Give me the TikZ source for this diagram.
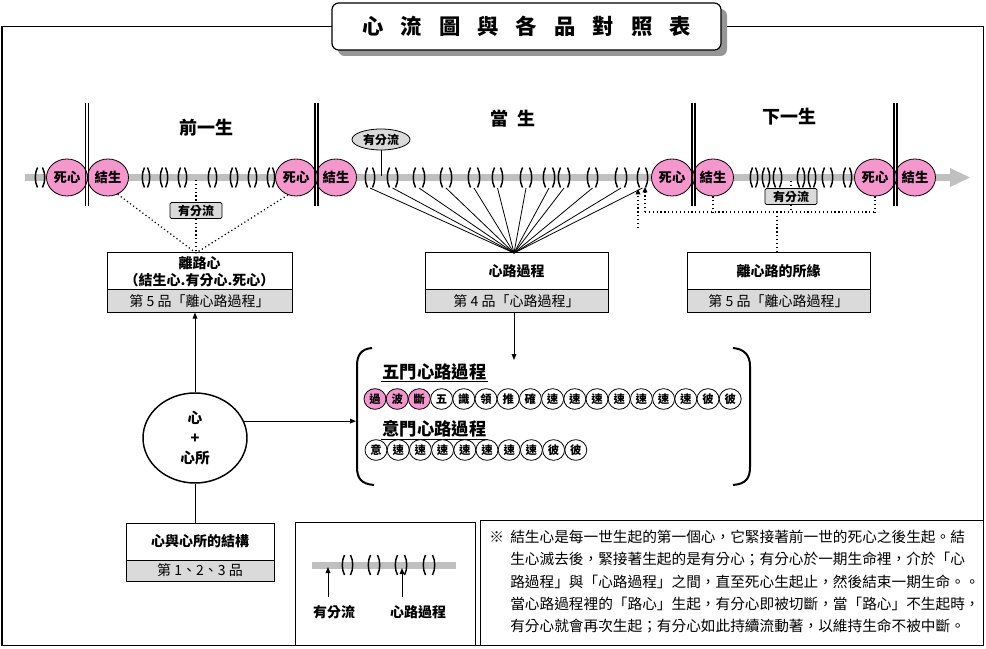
\documentclass[tikz,border=0pt]{standalone}
\usepackage{fontspec}
\setmainfont{Noto Sans CJK TC}
\usetikzlibrary{shapes.geometric,arrows.meta}
\definecolor{pinkfill}{RGB}{245,150,205}
\definecolor{bandgray}{RGB}{192,192,192}
\definecolor{boxgray}{RGB}{218,218,218}
\definecolor{shadowgray}{RGB}{150,150,150}
\newcommand\brpair[3]{%
 \draw[paren] (#1+2.5,#3-10) .. controls (#1-0.5,#3-4) and (#1-0.5,#3+4) .. (#1+2.5,#3+10);
 \draw[paren] (#2-2.5,#3-10) .. controls (#2+0.5,#3-4) and (#2+0.5,#3+4) .. (#2-2.5,#3+10);}
\newcommand\tgap{\hspace{12.8pt}}
\tikzset{
 frm/.style={line width=0.8pt},
 paren/.style={line width=1.1pt},
 band/.style={bandgray, line width=5.25pt},
 pinkc/.style={ellipse, draw, line width=0.6pt, fill=pinkfill, minimum width=30.75pt, minimum height=27.75pt, inner sep=0pt, font=\bfseries\fontsize{10}{10}\selectfont},
 sepline/.style={line width=0.8pt},
 life/.style={font=\bfseries\fontsize{13.5}{13.5}\selectfont, inner sep=0pt},
 yfell/.style={ellipse, draw, line width=0.6pt, fill=boxgray, minimum width=43.5pt, minimum height=15.75pt, inner sep=0pt, font=\bfseries\fontsize{9}{9}\selectfont},
 yfrect/.style={rectangle, draw, line width=0.6pt, rounded corners=1pt, fill=boxgray, minimum width=39pt, minimum height=12pt, inner sep=0pt, font=\bfseries\fontsize{9}{9}\selectfont},
 dotln/.style={dotted, line width=0.9pt},
 hairline/.style={line width=0.6pt},
 boxtop/.style={draw, line width=0.75pt, fill=white, minimum width=138.75pt, minimum height=27.75pt, inner sep=0pt, align=center, font=\bfseries\fontsize{10.5}{12.5}\selectfont},
 boxbot/.style={draw, line width=0.75pt, fill=boxgray, minimum width=138.75pt, minimum height=16.5pt, inner sep=0pt, font=\fontsize{10.5}{10.5}\selectfont},
 arr/.style={line width=0.75pt, -{Triangle[length=4.5pt,width=3.5pt]}},
 dotarr/.style={dotted, line width=0.9pt, -{Triangle[length=4pt,width=3.5pt]}},
 sc/.style={ellipse, draw, line width=0.6pt, fill=white, minimum width=16.5pt, minimum height=15.5pt, inner sep=0pt, font=\bfseries\fontsize{8.5}{8.5}\selectfont},
 hd/.style={font=\bfseries\fontsize{13}{13}\selectfont, inner sep=1pt, anchor=west},
 notetxt/.style={font=\fontsize{11}{11}\selectfont, inner sep=0pt, anchor=west},
 titlebox/.style={draw, line width=0.9pt, fill=white, rounded corners=5pt, minimum width=291.75pt, minimum height=35.25pt, font=\bfseries\fontsize{16}{16}\selectfont},
}
\begin{document}
\begin{tikzpicture}[x=0.75pt,y=-0.75pt]
\useasboundingbox (0,0) rectangle (986,649);
% outer frame
\draw[frm] (332,26.5) -- (2,26.5) -- (2,645.5) -- (983.5,645.5) -- (983.5,26.5) -- (721,26.5);
% title
\fill[shadowgray, rounded corners=5pt] (338,9) rectangle (727,56);
\node[titlebox] (title) at (526.5,26.5) {心\tgap 流\tgap 圖\tgap 與\tgap 各\tgap 品\tgap 對\tgap 照\tgap 表};

% timeline band
\draw[band] (25,177.5) -- (950,177.5);
\fill[bandgray] (950,168) -- (970,177.5) -- (950,187) -- cycle;

% life labels
\node[life] (L1) at (206,128) {前一生};
\node[life] (L2) at (513,119) {當\hspace{0.45em}生};
\node[life] (L3) at (789,117) {下一生};

% brackets previous life
\foreach \a/\b in {35/45,142/150,160/168,178/187,208/217,230/238,248/257,267/275}{\brpair{\a}{\b}{177.5}}
% brackets next life
\foreach \a/\b in {750/758,762/770,773/782,797/805,808/816,822/833,843/852}{\brpair{\a}{\b}{177.5}}

% boxes
\node[boxtop] (A) at (199.5,271.5) {離路心\\（結生心.有分心.死心）};
\node[boxbot] (Ab) at (199.5,301) {第 5 品「離心路過程」};
\node[boxtop, minimum width=137.25pt] (B) at (516.5,271.5) {心路過程};
\node[boxbot, minimum width=137.25pt] (Bb) at (516.5,301) {第 4 品「心路過程」};
\node[boxtop, minimum width=137.25pt] (C) at (778.5,271.5) {離心路的所緣};
\node[boxbot, minimum width=137.25pt] (Cb) at (778.5,301) {第 5 品「離心路過程」};

% current life brackets and lines
\coordinate (Bin) at (514,253);
\foreach \a/\b [count=\i] in {365/375,387/398,413/425,440/452,468/480,492/503,520/532,543/555,558/570,587/598,615/627,637/648}{
  \brpair{\a}{\b}{177.5}
  \coordinate (p\i) at ({(\a+\b)/2},188);
  \draw[hairline] (p\i) -- (Bin);
}

% pink circles
\node[pinkc] (d1) at (67,177.5) {死心};
\node[pinkc] (j1) at (108,177.5) {結生};
\node[pinkc] (d2) at (296,177.5) {死心};
\node[pinkc] (j2) at (336,177.5) {結生};
\node[pinkc] (d3) at (672,177.5) {死心};
\node[pinkc] (j3) at (713,177.5) {結生};
\node[pinkc] (d4) at (875,177.5) {死心};
\node[pinkc] (j4) at (915,177.5) {結生};

% double separator lines
\foreach \x in {85.5,315,692,894}{
  \draw[sepline] (\x,103) -- (\x,206);
  \draw[sepline] (\x+3,103) -- (\x+3,206);
}

% bhavanga labels
\node[yfell] (yf0) at (381,139.5) {有分流};
\coordinate (yf0b) at (381,176);
\draw[hairline] (yf0) -- (yf0b);

\node[yfrect] (yf1) at (196,210.5) {有分流};
\coordinate (t1) at (196,180);
\coordinate (Ain) at (196,253);
\draw[dotln] (t1) -- (yf1);
\draw[dotln] (yf1) -- (Ain);
\draw[dotln] (j1.300) -- (Ain);
\draw[dotln] (d2.245) -- (Ain);

\node[yfrect] (yf2) at (791,196.5) {有分流};
\coordinate (t2) at (791,181);
\coordinate (h1) at (645,212);
\coordinate (Cin) at (777,253);
\draw[dotln] (t2) -- (yf2);
\draw[dotln] (yf2) -- (yf2 |- h1);
\draw[dotln] (j3.south) -- (j3.south |- h1);
\draw[dotln] (d4.south) -- (d4.south |- h1);
\draw[dotln] (h1) -- (d4.south |- h1);
\draw[dotln] (Cin |- h1) -- (Cin);
\coordinate (tip1) at (645,187);
\coordinate (tip2) at (638,189);
\coordinate (s2) at (638,228);
\draw[dotarr] (h1) -- (tip1);
\draw[dotarr] (s2) -- (tip2);

% group bracket
\draw[line width=1.5pt] (372,348) .. controls (361,349) and (357,355) .. (357,366) -- (357,467) .. controls (357,478) and (361,484) .. (374,485);
\draw[line width=1.5pt] (733,348) .. controls (744,349) and (750,355) .. (750,366) -- (750,467) .. controls (750,478) and (746,484) .. (733,485);
\coordinate (gtop) at (514,360);
\coordinate (gleft) at (356,423);
\draw[arr] (Bb.south -| Bin) -- (gtop);

\node[hd] (h5) at (381,372) {五門心路過程};
\draw[line width=0.7pt] (h5.south west) -- (h5.south east);
\foreach \t [count=\i] in {過,波,斷}{
  \node[sc, fill=pinkfill] (r1\i) at ({375+22.2*(\i-1)},399) {\t};
}
\foreach \t [count=\i from 4] in {五,識,領,推,確,速,速,速,速,速,速,速,彼,彼}{
  \node[sc] (r1\i) at ({375+22.2*(\i-1)},399) {\t};
}
\node[hd] (h6) at (381,429) {意門心路過程};
\draw[line width=0.7pt] (h6.south west) -- (h6.south east);
\foreach \t [count=\i] in {意,速,速,速,速,速,速,速,彼,彼}{
  \node[sc] (r2\i) at ({376+22.2*(\i-1)},450) {\t};
}

% mind + mental factors
\node[ellipse, draw, line width=1.1pt, minimum width=78pt, minimum height=67.5pt, inner sep=0pt, align=center, font=\bfseries\fontsize{11}{15}\selectfont] (C0) at (195,438) {心\\+\\心所};
\draw[arr] (C0.north) -- (C0.north |- Ab.south);
\draw[arr] (C0.19) -- (C0.19 -| gleft);

\node[boxtop, minimum width=111pt] (D) at (200,541.5) {心與心所的結構};
\node[boxbot, minimum width=111pt, minimum height=15.75pt] (Db) at (200,570.5) {第 1、2、3 品};
\draw[line width=0.75pt] (C0.south) -- (C0.south |- D.north);

% legend
\draw[line width=0.75pt] (295,522) rectangle (475,645.5);
\draw[bandgray, line width=5.25pt] (312,565) -- (456,565);
\foreach \a/\b in {342/353,368/380,395/407,423/435}{\brpair{\a}{\b}{565}}
\node[font=\bfseries\fontsize{10.5}{10.5}\selectfont, inner sep=0pt] (lg1) at (334,612) {有分流};
\node[font=\bfseries\fontsize{10.5}{10.5}\selectfont, inner sep=0pt] (lg2) at (418,612) {心路過程};
\coordinate (a1) at (328,567);
\coordinate (a1s) at (328,597);
\coordinate (a2) at (402,568);
\coordinate (a2s) at (402,597);
\draw[arr] (a1s) -- (a1);
\draw[arr] (a2s) -- (a2);

% note
\draw[line width=0.75pt] (480,520) rectangle (983.5,645.5);
\node[notetxt] (n0) at (489,537) {※};
\begingroup
\XeTeXlinebreaklocale "zh"
\XeTeXlinebreakskip=0pt plus 3pt minus 1pt
\node[notetxt] (n1) at (510,537) {\makebox[343.5pt][s]{結生心是每一世生起的第一個心，它緊接著前一世的死心之後生起。結}};
\node[notetxt] (n2) at (510,559) {\makebox[343.5pt][s]{生心滅去後，緊接著生起的是有分心；有分心於一期生命裡，介於「心}};
\node[notetxt] (n3) at (510,582) {\makebox[343.5pt][s]{路過程」與「心路過程」之間，直至死心生起止，然後結束一期生命。。}};
\node[notetxt] (n4) at (510,604) {\makebox[343.5pt][s]{當心路過程裡的「路心」生起，有分心即被切斷，當「路心」不生起時，}};
\node[notetxt] (n5) at (510,626) {有分心就會再次生起；有分心如此持續流動著，以維持生命不被中斷。};
\endgroup
\end{tikzpicture}
\end{document}
